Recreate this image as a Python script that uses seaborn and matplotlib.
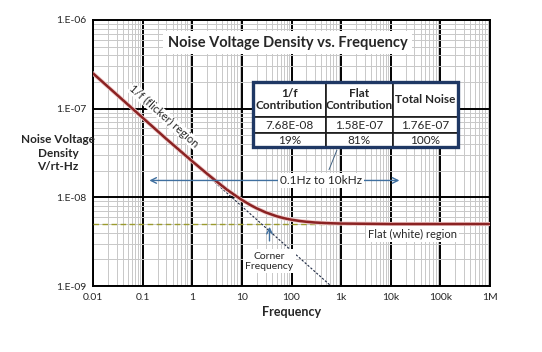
import matplotlib
matplotlib.use("Agg")
import matplotlib.pyplot as plt
import seaborn as sns
import pandas as pd
from matplotlib.ticker import FixedLocator, LogLocator, NullFormatter

# values
freq_hz = [0.01, 0.1, 0.3, 1, 2, 3, 5, 7, 10, 15, 20, 30, 50, 70, 100,
           150, 200, 300, 500, 1000, 1e4, 1e5, 1e6]
total_noise = [2.5e-7, 7.9e-8, 4.56e-8, 2.55e-8, 1.84e-8, 1.53e-8, 1.22e-8,
               1.07e-8, 9.35e-9, 8.16e-9, 7.5e-9, 6.77e-9, 6.12e-9, 5.82e-9,
               5.59e-9, 5.40e-9, 5.30e-9, 5.20e-9, 5.12e-9, 5.06e-9, 5.0e-9,
               5.0e-9, 5.0e-9]
flicker_freq = [0.01, 625]
flicker_noise = [2.5e-7, 1e-9]
flat_freq = [0.01, 1e6]
flat_noise = [5e-9, 5e-9]

x_ticks = [0.01, 0.1, 1, 10, 100, 1e3, 1e4, 1e5, 1e6]
x_labels = ["0.01", "0.1", "1", "10", "100", "1k", "10k", "100k", "1M"]
y_ticks = [1e-9, 1e-8, 1e-7, 1e-6]
y_labels = ["1.E-09", "1.E-08", "1.E-07", "1.E-06"]

table_cols = ["1/f\nContribution", "Flat\nContribution", "Total Noise"]
table_rows = [["7.68E-08", "1.58E-07", "1.76E-07"],
              ["19%", "81%", "100%"]]

sns.set_style("white")
plt.rcParams["font.family"] = ["Lato", "DejaVu Sans"]

fig = plt.figure(figsize=(5.42, 3.52), dpi=100)
ax = fig.add_axes([0.1716, 0.1875, 0.7325, 0.7557])

df = pd.DataFrame({"f": freq_hz, "v": total_noise})
dfk = pd.DataFrame({"f": flicker_freq, "v": flicker_noise})
dfw = pd.DataFrame({"f": flat_freq, "v": flat_noise})

ax.set_xscale("log")
ax.set_yscale("log")
ax.set_xlim(0.01, 1e6)
ax.set_ylim(1e-9, 1e-6)

# grid
ax.xaxis.set_major_locator(FixedLocator(x_ticks))
ax.yaxis.set_major_locator(FixedLocator(y_ticks))
ax.xaxis.set_minor_locator(LogLocator(base=10, subs=range(2, 10), numticks=20))
ax.yaxis.set_minor_locator(LogLocator(base=10, subs=range(2, 10), numticks=20))
ax.xaxis.set_minor_formatter(NullFormatter())
ax.yaxis.set_minor_formatter(NullFormatter())
ax.grid(which="minor", color="#c8c8c8", lw=0.7)
ax.grid(which="major", color="black", lw=1.4)
ax.set_axisbelow(True)
ax.set_xticklabels(x_labels)
ax.set_yticklabels(y_labels)
ax.tick_params(which="both", length=0, labelsize=7.5, pad=5)

sns.lineplot(data=dfw, x="f", y="v", ax=ax, color="#9b9b2e", lw=1.0,
             linestyle=(0, (4, 2.5)), zorder=3)
sns.lineplot(data=dfk, x="f", y="v", ax=ax, color="#1f2a44", lw=0.8,
             linestyle=(0, (2, 1.5)), zorder=3)
sns.lineplot(data=df, x="f", y="v", ax=ax, color="#efcaca", lw=3.0, zorder=4)
sns.lineplot(data=df, x="f", y="v", ax=ax, color="#8b2323", lw=1.8, zorder=5)

for s in ax.spines.values():
    s.set_color("black")
    s.set_linewidth(1.4)

ax.set_xlabel("Frequency", fontsize=9, fontweight="bold", labelpad=3)
ax.set_ylabel("")
fig.text(0.107, 0.565, "Noise Voltage\nDensity\nV/rt-Hz", ha="center",
         va="center", fontsize=8.5, fontweight="bold", linespacing=1.3)

white = dict(facecolor="white", edgecolor="none", pad=1.5)
ax.text(0.49, 0.915, "Noise Voltage Density vs. Frequency", transform=ax.transAxes,
        ha="center", va="center", fontsize=10.5, fontweight="bold",
        bbox=dict(facecolor="white", edgecolor="none", pad=3), zorder=6)

# 1/f region label along curve
ax.text(0.27, 8.2e-8, "1/f (flicker) region", rotation=-41.5, ha="center",
        va="center", fontsize=8, rotation_mode="anchor",
        bbox=dict(facecolor="white", edgecolor="none", pad=0.3), zorder=6)

# band arrows 0.1Hz to 10kHz
arrow_kw = dict(arrowstyle="->", color="#3f6f9f", lw=1.0)
ax.annotate("", xy=(0.12, 1.55e-8), xytext=(150, 1.55e-8), arrowprops=arrow_kw, zorder=6)
ax.annotate("", xy=(17000, 1.55e-8), xytext=(1000, 1.55e-8), arrowprops=arrow_kw, zorder=6)
ax.text(390, 1.55e-8, "0.1Hz to 10kHz", ha="center", va="center", fontsize=8.5,
        bbox=white, zorder=7)
ax.plot([820, 570], [3.4e-8, 2.05e-8], color="#3f5f7f", lw=0.7, zorder=6)

# corner frequency
ax.annotate("", xy=(36, 5.0e-9), xytext=(36, 3.0e-9),
            arrowprops=dict(arrowstyle="->", color="#3f6f9f", lw=1.0), zorder=6)
ax.text(36, 1.9e-9, "Corner\nFrequency", ha="center", va="center", fontsize=7.5,
        linespacing=1.2, bbox=white, zorder=7)

ax.text(27000, 3.85e-9, "Flat (white) region", ha="center", va="center", fontsize=8,
        bbox=white, zorder=7)

# contribution table
tb_x, tb_y, tb_w, tb_h = 0.403, 0.523, 0.516, 0.244
tbl = ax.table(cellText=table_rows, colLabels=table_cols, cellLoc="center",
               colWidths=[0.356, 0.327, 0.317],
               bbox=[tb_x, tb_y, tb_w, tb_h], zorder=8)
tbl.auto_set_font_size(False)
heights = {0: 0.54, 1: 0.25, 2: 0.21}
for (r, c), cell in tbl.get_celld().items():
    cell.set_edgecolor("#1a1a1a")
    cell.set_linewidth(1.2)
    cell.set_facecolor("white")
    cell.set_height(heights[r])
    if r == 0:
        cell.set_text_props(fontweight="bold", fontsize=8.5, linespacing=1.15)
    else:
        cell.set_text_props(fontsize=8.5)
frame = plt.Rectangle((tb_x, tb_y), tb_w, tb_h, transform=ax.transAxes,
                      fill=False, edgecolor="#1f3864", lw=2.4, zorder=9)
ax.add_patch(frame)

fig.savefig("out.png", dpi=100, facecolor="white")
